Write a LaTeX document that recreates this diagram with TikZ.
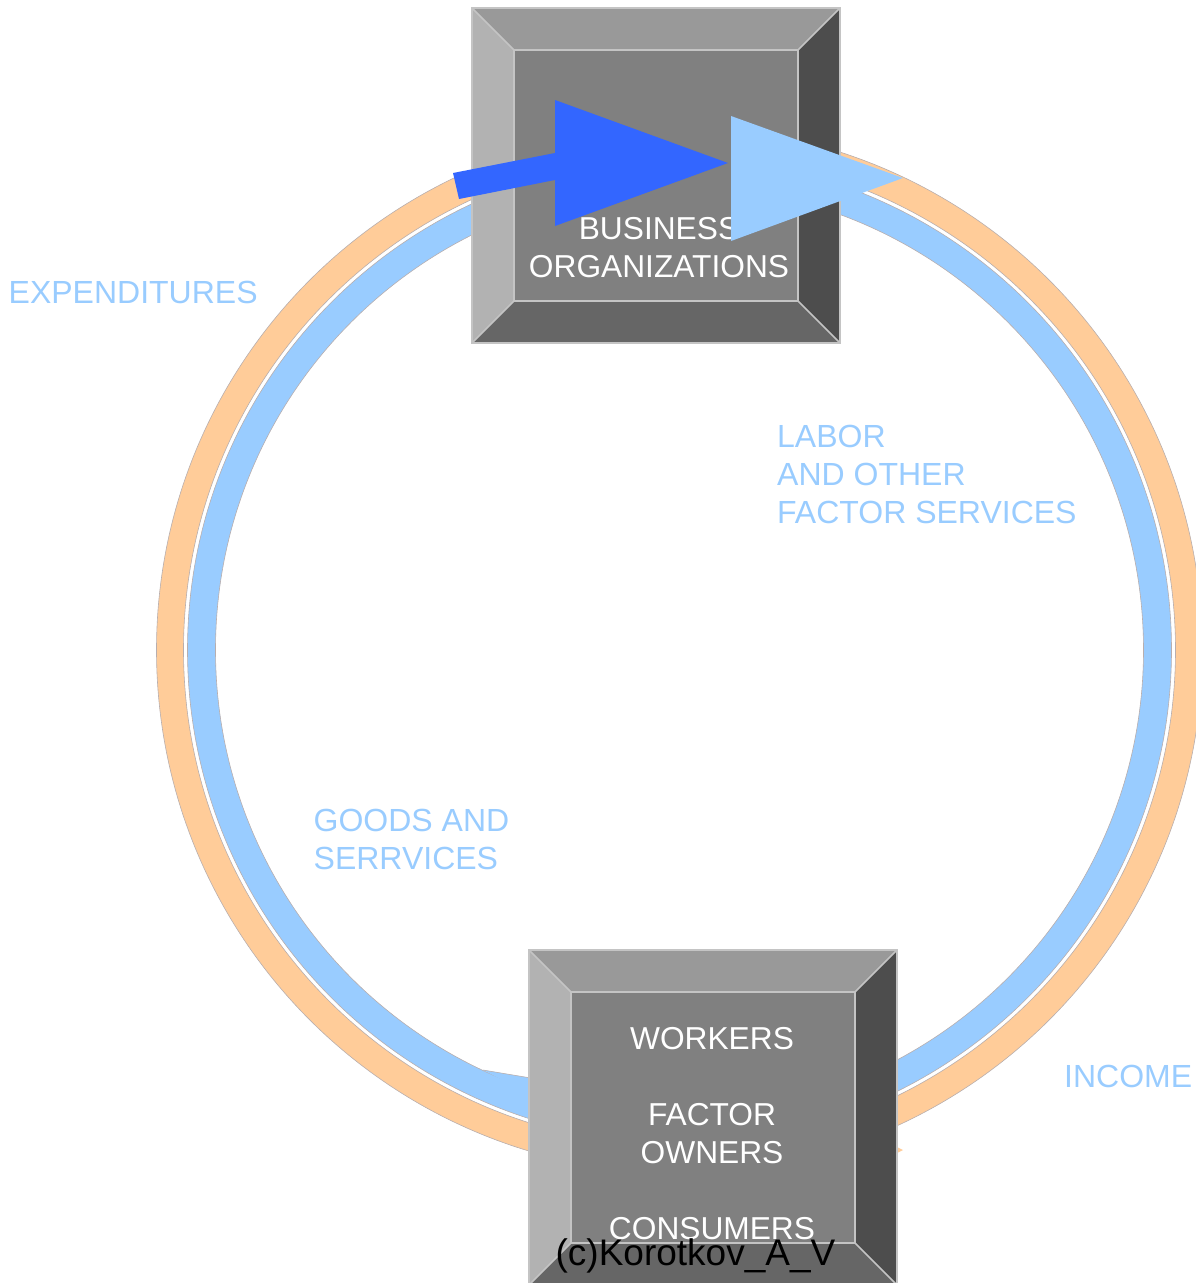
\documentclass[tikz,border=0pt]{standalone}
\usepackage{fontspec}
\setmainfont{Liberation Sans}
\definecolor{ringorange}{HTML}{FFCC99}
\definecolor{ringblue}{HTML}{99CCFF}
\definecolor{arrowblue}{HTML}{3366FF}
\definecolor{edgegray}{HTML}{B8AEAE}
\definecolor{bvtop}{HTML}{999999}
\definecolor{bvleft}{HTML}{B2B2B2}
\definecolor{bvright}{HTML}{4D4D4D}
\definecolor{bvbottom}{HTML}{666666}
\definecolor{bvface}{HTML}{808080}
\definecolor{bvborder}{HTML}{C4C4C4}
\newcommand\bevelboxdraw[4]{%
  \fill[bvface] (#1+42,#2+42) rectangle (#3-42,#4-42);
  \fill[bvtop] (#1,#2) -- (#3,#2) -- (#3-42,#2+42) -- (#1+42,#2+42) -- cycle;
  \fill[bvleft] (#1,#2) -- (#1+42,#2+42) -- (#1+42,#4-42) -- (#1,#4) -- cycle;
  \fill[bvright] (#3,#2) -- (#3,#4) -- (#3-42,#4-42) -- (#3-42,#2+42) -- cycle;
  \fill[bvbottom] (#1,#4) -- (#3,#4) -- (#3-42,#4-42) -- (#1+42,#4-42) -- cycle;
  \draw[bvborder, line width=1.6pt] (#1,#2) rectangle (#3,#4)
    (#1+42,#2+42) rectangle (#3-42,#4-42)
    (#1,#2) -- (#1+42,#2+42) (#3,#2) -- (#3-42,#2+42)
    (#1,#4) -- (#1+42,#4-42) (#3,#4) -- (#3-42,#4-42);
}
\begin{document}
\begin{tikzpicture}[x=1pt,y=-1pt,
  lbl/.style={text=ringblue, font=\fontsize{32}{38}\selectfont, align=left, inner sep=0pt, anchor=north west},
  boxtxt/.style={text=white, font=\fontsize{31.7}{38}\selectfont, align=center, inner sep=0pt, anchor=north},
  ringline/.style={draw=edgegray, line width=0.6pt}]
\useasboundingbox (0,0) rectangle (1195,1283);
\coordinate (c) at (679.5,650);
% rings
\fill[ringorange, even odd rule] (c) circle[radius=523] (c) circle[radius=496];
\draw[ringline] (c) circle[radius=523] (c) circle[radius=496];
\fill[ringblue, even odd rule] (c) circle[radius=492] (c) circle[radius=464];
\draw[ringline] (c) circle[radius=492] (c) circle[radius=464];
\fill[ringblue] (483,1070) -- (531,1078) -- (531,1095) -- cycle;
\draw[ringline] (483,1070) -- (531,1078);
\fill[ringorange] (895,1146) -- (903,1150) -- (895,1154) -- cycle;
% boxes
\bevelboxdraw{472}{8}{840}{343}
\bevelboxdraw{529}{950}{897}{1285}
\node[boxtxt] (business) at (659,217) {BUSINESS\\ORGANIZATIONS};
\node[boxtxt] (workers) at (712,1027) {WORKERS\\[38pt]FACTOR\\OWNERS\\[38pt]CONSUMERS};
% arrows
\fill[arrowblue] (453,173) -- (555,153) -- (555,100) -- (728,163) -- (555,226) -- (555,180) -- (459,199) -- cycle;
\fill[ringblue] (731,116) -- (903,178) -- (731,241) -- cycle;
% labels
\node[lbl] (expend) at (8.5,281) {EXPENDITURES};
\node[lbl] (labor) at (777,425) {LABOR\\AND OTHER\\FACTOR SERVICES};
\node[lbl] (goods) at (313.5,809) {GOODS AND\\SERRVICES};
\node[lbl] (income) at (1064,1065) {INCOME};
\node[text=black, font=\fontsize{37}{44}\selectfont, inner sep=0pt, anchor=base] (copy) at (695.5,1265) {(c)Korotkov\_A\_V};
\end{tikzpicture}
\end{document}
